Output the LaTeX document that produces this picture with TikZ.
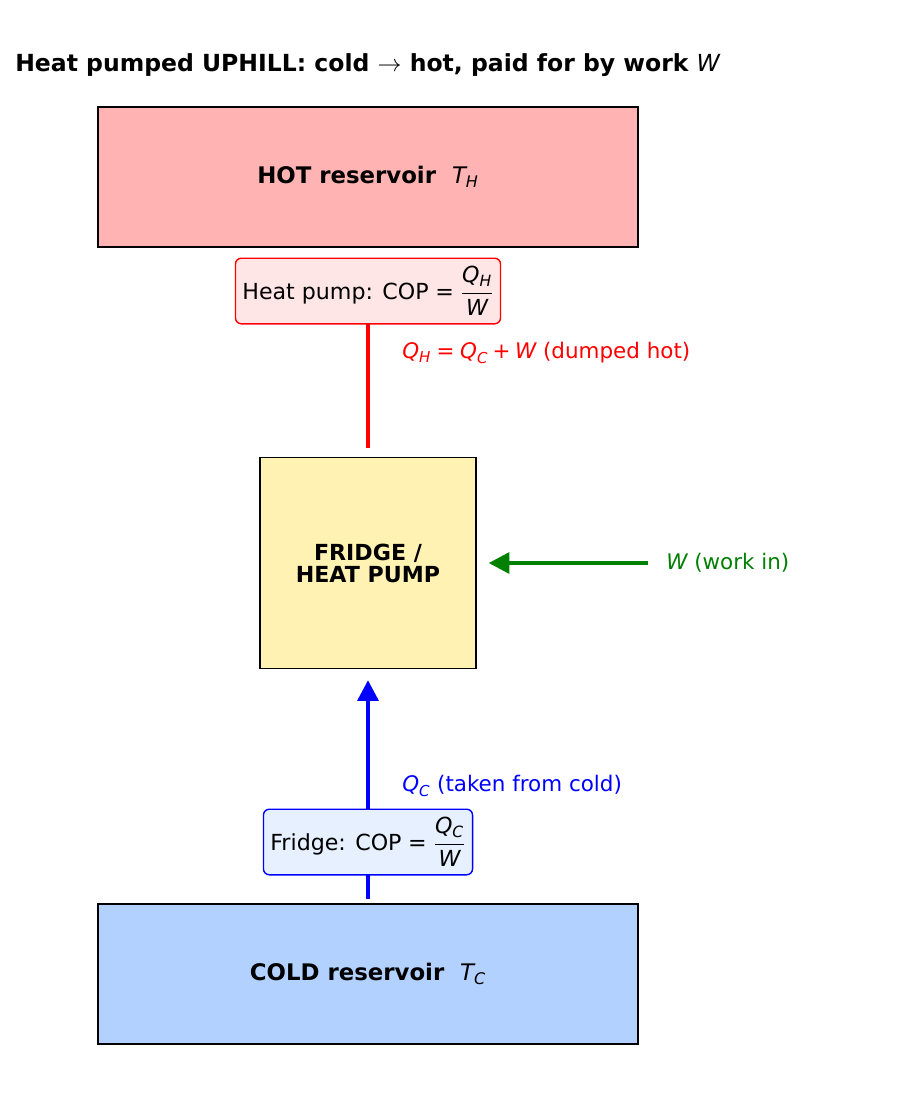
\documentclass[tikz,border=0pt]{standalone}
\usepackage{amsmath}
\usepackage{fontspec}
\setmainfont{DejaVu Sans}
\usetikzlibrary{arrows.meta}
\usetikzlibrary{positioning}

\definecolor{hotfill}{RGB}{255,179,179}
\definecolor{coldfill}{RGB}{179,209,255}
\definecolor{pumpfill}{RGB}{255,242,179}
\definecolor{hotlabel}{RGB}{255,230,230}
\definecolor{coldlabel}{RGB}{230,240,255}
\definecolor{workgreen}{RGB}{0,128,0}

\newcommand{\iv}[1]{\text{\normalfont\itshape #1}}
\newcommand{\eqs}{\mathrel{\text{\normalfont =}}}
\newcommand{\pls}{\mathbin{\text{\normalfont +}}}

\begin{document}
\begin{tikzpicture}[x=0.254mm, y=-0.254mm,
	reservoir/.style={draw=black, line width=1pt, minimum width=137.16mm, minimum height=35.56mm, font=\fontsize{16.5}{18}\selectfont\bfseries},
	copbox/.style={rounded corners=1.5mm, line width=1pt, inner xsep=5pt, inner ysep=6pt, font=\fontsize{16}{18}\selectfont},
	flowlabel/.style={anchor=west, inner sep=0pt, font=\fontsize{15.5}{18}\selectfont},
	flow/.style={line width=3pt, -{Triangle[length=15pt, width=15pt]}}]
		\useasboundingbox (0,0) rectangle (921,1105);
		
		\node[anchor=west, inner sep=0pt, font=\fontsize{17}{20}\selectfont\bfseries] (title) at (15,65) {Heat pumped UPHILL: cold $\rightarrow$ hot, paid for by work $\iv{W}$};
		
		\node[reservoir, fill=hotfill] (hot) at (368,177) {HOT reservoir\ \ $\iv{T}_{\iv{H}}$};
		\node[reservoir, fill=coldfill] (cold) at (368,974) {COLD reservoir\ \ $\iv{T}_{\iv{C}}$};
		\node[draw=black, line width=1pt, fill=pumpfill, minimum width=54.86mm, minimum height=53.59mm, align=center, font=\fontsize{16}{16}\selectfont\bfseries] (pump) at (368,563) {FRIDGE /\\HEAT PUMP};
		\coordinate (work) at (648,563);
		
		\draw[flow, red, shorten <=9*0.254mm, shorten >=18*0.254mm] (pump) -- (hot);
		\draw[flow, blue, shorten <=4*0.254mm, shorten >=11*0.254mm] (cold) -- (pump);
		\draw[flow, workgreen, shorten >=12*0.254mm] (work) -- (pump);
		
		\node[copbox, draw=red, fill=hotlabel] (hpcop) at (368,291) {Heat pump: $\text{COP}\eqs\dfrac{\iv{Q}_{\iv{H}}}{\iv{W}}$};
		\node[copbox, draw=blue, fill=coldlabel] (frcop) at (368,842) {Fridge: $\text{COP}\eqs\dfrac{\iv{Q}_{\iv{C}}}{\iv{W}}$};
		
		\node[flowlabel, red] (qh) at (402,353) {$\iv{Q}_{\iv{H}}\eqs\iv{Q}_{\iv{C}}\pls\iv{W}$ (dumped hot)};
		\node[flowlabel, blue] (qc) at (402,786) {$\iv{Q}_{\iv{C}}$ (taken from cold)};
		\node[flowlabel, workgreen] (wl) at (666,563) {$\iv{W}$ (work in)};
\end{tikzpicture}
\end{document}
